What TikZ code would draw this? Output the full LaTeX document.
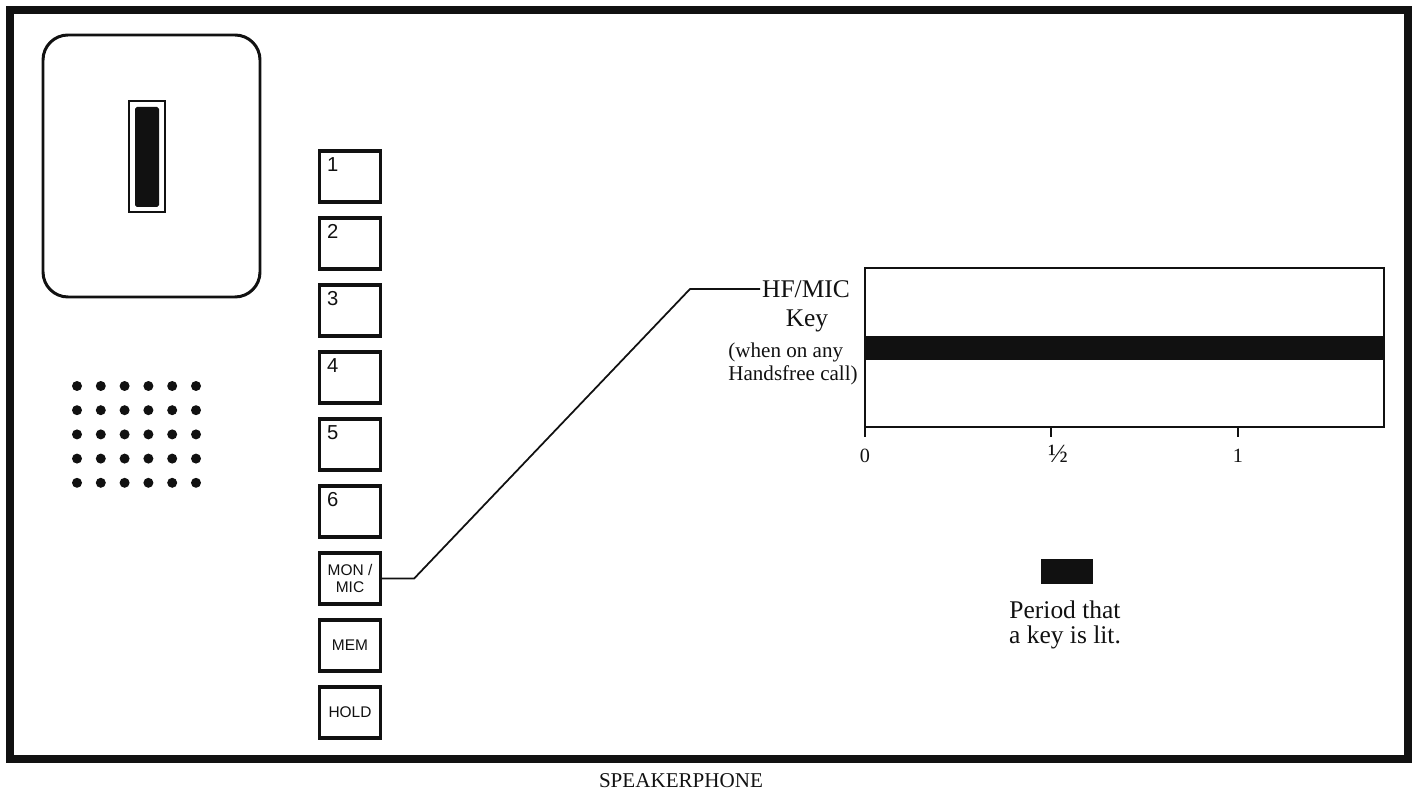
\documentclass[tikz,border=0pt]{standalone}
\usepackage{fontspec}
\setmainfont{Liberation Serif}
\newfontfamily\keyfont{Liberation Sans}
\usetikzlibrary{positioning,calc}
\definecolor{inkBlack}{HTML}{111111}

\tikzset{
  keybox/.style={draw=inkBlack,line width=1.9pt,minimum width=1.22cm,
    minimum height=1.02cm,inner sep=0pt,align=center,
    font=\keyfont\fontsize{8.8}{10}\selectfont},
  keynum/.style={anchor=north west,inner sep=0pt,
    font=\keyfont\fontsize{11.5}{12}\selectfont},
  hflabel/.style={inner sep=1pt,font=\fontsize{14.5}{17}\selectfont},
  hfnote/.style={anchor=west,inner sep=0pt,align=left,
    font=\fontsize{12}{13}\selectfont},
  ticklabel/.style={inner sep=0pt,font=\fontsize{11.5}{12}\selectfont},
}

\begin{document}
\begin{tikzpicture}[x=0.02cm,y=-0.02cm,color=inkBlack]
\useasboundingbox (0,0) rectangle (1414,804);
% outer frame
\draw[line width=4pt] (10,10) rectangle (1408,759);

% handset and its slot
\draw[line width=1.7pt,rounded corners=0.5cm] (43,35) rectangle (260,297);
\draw[line width=0.9pt] (129,101) rectangle (165,212);
\fill[rounded corners=1pt] (135,107) rectangle (159,207);

% speaker grille
\foreach \c in {0,...,5}
  \foreach \r in {0,...,4}
    \fill (77+23.8*\c,386+24.2*\r) circle[radius=0.1cm];

% keys
\foreach \n in {1,...,6} {
  \node[keybox] (key\n) at (350,{176.5+67*(\n-1)}) {};
  \node[keynum] (num\n) at ([shift={(9,8)}]key\n.north west) {\n};
}
\node[keybox] (monmic) at (350,578.5) {MON /\\MIC};
\node[keybox] (mem) at (350,645.5) {MEM};
\node[keybox] (hold) at (350,712.5) {HOLD};

% HF/MIC label and leader
\node[hflabel] (hfName) at (806,289) {HF/MIC};
\node[hflabel] (hfKey) at (807,321) {Key};
\node[hfnote] (hfNote) at (728,364) {(when on any\\Handsfree call)};
\coordinate (bendLow) at ($(monmic.east)+(32,0)$);
\coordinate (bendHigh) at ($(hfName.west)+(-70,0)$);
\draw[line width=1pt] (monmic.east) -- (bendLow) -- (bendHigh) -- (hfName.west);

% lamp chart
\draw[line width=1.1pt] (865,268) rectangle (1384,427);
\fill (865,336) rectangle (1384,360);
\draw[line width=1.1pt] (865,427) -- ++(0,10);
\node[ticklabel] (tick1) at (865,456) {0};
\draw[line width=1.1pt] (1051,427) -- ++(0,10);
\node[ticklabel,font=\fontsize{15}{16}\selectfont] (tick2) at (1058,454) {½};
\draw[line width=1.1pt] (1238,427) -- ++(0,10);
\node[ticklabel] (tick3) at (1238,456) {1};

% legend
\fill (1041,559) rectangle (1093,584);
\node[align=center,font=\fontsize{14.5}{14}\selectfont] (legendText) at (1065,625)
  {Period that\\a key is lit.};

\node[font=\fontsize{12}{14}\selectfont] (caption) at (681,781) {SPEAKERPHONE};
\end{tikzpicture}
\end{document}
